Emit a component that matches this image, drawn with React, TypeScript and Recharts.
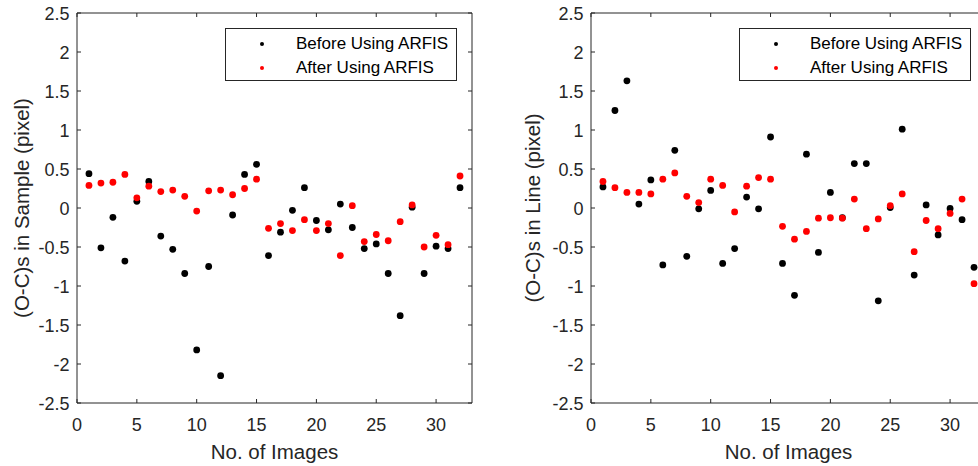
import { ScatterChart, Scatter, XAxis, YAxis, Legend } from "recharts";

// image index along x
const imageNo = [
  1, 2, 3, 4, 5, 6, 7, 8, 9, 10, 11, 12, 13, 14, 15, 16,
  17, 18, 19, 20, 21, 22, 23, 24, 25, 26, 27, 28, 29, 30, 31, 32,
];

// (O-C)s in sample direction
const sampleBefore = [
  0.44, -0.51, -0.12, -0.68, 0.085, 0.34, -0.36, -0.53, -0.84, -1.82, -0.75, -2.15, -0.09, 0.43, 0.56, -0.61,
  -0.31, -0.03, 0.26, -0.16, -0.28, 0.05, -0.25, -0.52, -0.46, -0.84, -1.38, 0.01, -0.84, -0.49, -0.52, 0.26,
];
const sampleAfter = [
  0.29, 0.32, 0.33, 0.43, 0.13, 0.28, 0.21, 0.23, 0.15, -0.04, 0.22, 0.23, 0.17, 0.25, 0.37, -0.26,
  -0.2, -0.29, -0.15, -0.29, -0.2, -0.61, 0.03, -0.43, -0.34, -0.42, -0.175, 0.04, -0.5, -0.35, -0.47, 0.41,
];

// (O-C)s in line direction
const lineBefore = [
  0.27, 1.25, 1.63, 0.05, 0.36, -0.73, 0.74, -0.62, -0.01, 0.225, -0.71, -0.52, 0.14, -0.01, 0.91, -0.71,
  -1.12, 0.69, -0.57, 0.2, -0.125, 0.57, 0.57, -1.19, 0.005, 1.01, -0.86, 0.04, -0.345, -0.005, -0.15, -0.76,
];
const lineAfter = [
  0.34, 0.26, 0.2, 0.2, 0.18, 0.37, 0.45, 0.15, 0.07, 0.37, 0.29, -0.05, 0.28, 0.39, 0.37, -0.235,
  -0.4, -0.3, -0.13, -0.125, -0.13, 0.115, -0.265, -0.14, 0.03, 0.18, -0.56, -0.16, -0.265, -0.07, 0.115, -0.97,
];

const xTicks = [0, 5, 10, 15, 20, 25, 30];
const yTicks = [-2.5, -2, -1.5, -1, -0.5, 0, 0.5, 1, 1.5, 2, 2.5];
const seriesNames = ["Before Using ARFIS", "After Using ARFIS"];
const seriesColors = ["#000000", "#ff0000"];

const FONT = '"Liberation Sans", Arial, Helvetica, sans-serif';
const INK = "#262626";
const TICK_LEN = 4;
const TICK_FONT = 18;

const toPoints = (ys: number[]) => imageNo.map((x, i) => ({ x, y: ys[i] }));

const BottomTick = (p: any) => (
  <g>
    <line x1={p.x} x2={p.x} y1={p.y} y2={p.y - TICK_LEN} stroke={INK} />
    <text x={p.x} y={p.y + 27.5} textAnchor="middle" fill={INK} fontSize={TICK_FONT} fontFamily={FONT}>
      {String(p.payload.value)}
    </text>
  </g>
);
const TopTick = (p: any) => <line x1={p.x} x2={p.x} y1={p.y} y2={p.y + TICK_LEN} stroke={INK} />;
const LeftTick = (p: any) => (
  <g>
    <line x1={p.x} x2={p.x + TICK_LEN} y1={p.y} y2={p.y} stroke={INK} />
    <text x={p.x - 7.5} y={p.y + 6.5} textAnchor="end" fill={INK} fontSize={TICK_FONT} fontFamily={FONT}>
      {String(p.payload.value)}
    </text>
  </g>
);
const RightTick = (p: any) => <line x1={p.x} x2={p.x - TICK_LEN} y1={p.y} y2={p.y} stroke={INK} />;

function LegendBox({ payload }: any) {
  const items = seriesNames.map((n, i) => {
    const found = (payload || []).find((it: any) => it.value === n);
    return { value: n, color: found ? found.color : seriesColors[i] };
  });
  return (
    <div
      style={{
        position: "relative",
        width: 232,
        height: 53,
        border: `1px solid ${INK}`,
        boxSizing: "border-box",
        background: "#fff",
        fontFamily: FONT,
        fontSize: 17,
        color: "#000",
      }}
    >
      {items.map((it, i) => (
        <div key={i} style={{ position: "absolute", left: 0, top: 3 + i * 24, width: "100%", height: 24 }}>
          <span
            style={{
              position: "absolute",
              left: 33.5,
              top: 10,
              width: 4,
              height: 4,
              borderRadius: "50%",
              background: it.color,
            }}
          />
          <span style={{ position: "absolute", left: 70, top: 0, lineHeight: "24px", whiteSpace: "nowrap" }}>
            {it.value}
          </span>
        </div>
      ))}
    </div>
  );
}

interface PanelProps {
  before: number[];
  after: number[];
  yLabel: string;
  width: number;
  yAxisWidth: number;
  rightMargin: number;
  labelX: number;
  legendLeft: number;
}

function Panel({ before, after, yLabel, width, yAxisWidth, rightMargin, labelX, legendLeft }: PanelProps) {
  const dot = (color: string) => (p: any) => <circle cx={p.cx} cy={p.cy} r={3.4} fill={color} />;
  return (
    <ScatterChart width={width} height={466} margin={{ top: 12, right: rightMargin, bottom: 62, left: 0 }}>
      <XAxis
        type="number"
        dataKey="x"
        domain={[0, 33]}
        ticks={xTicks}
        interval={0}
        allowDataOverflow
        height={1}
        tickSize={0}
        tickMargin={0}
        tickLine={false}
        axisLine={{ stroke: INK }}
        tick={BottomTick}
        label={(lp: any) => {
          const vb = lp.viewBox;
          return (
            <text x={vb.x + vb.width / 2} y={vb.y + 56} textAnchor="middle" fill={INK} fontSize={20.5} fontFamily={FONT}>
              No. of Images
            </text>
          );
        }}
      />
      <XAxis
        xAxisId="top"
        orientation="top"
        type="number"
        dataKey="x"
        domain={[0, 33]}
        ticks={xTicks}
        interval={0}
        allowDataOverflow
        height={1}
        tickSize={0}
        tickMargin={0}
        tickLine={false}
        axisLine={{ stroke: INK }}
        tick={TopTick}
      />
      <YAxis
        type="number"
        dataKey="y"
        domain={[-2.5, 2.5]}
        ticks={yTicks}
        interval={0}
        allowDataOverflow
        width={yAxisWidth}
        tickSize={0}
        tickMargin={0}
        tickLine={false}
        axisLine={{ stroke: INK }}
        tick={LeftTick}
        label={(lp: any) => {
          const vb = lp.viewBox;
          const cy = vb.y + vb.height / 2;
          return (
            <text
              x={labelX}
              y={cy}
              dy={7}
              transform={`rotate(-90 ${labelX} ${cy})`}
              textAnchor="middle"
              fill={INK}
              fontSize={20.5}
              fontFamily={FONT}
            >
              {yLabel}
            </text>
          );
        }}
      />
      <YAxis
        yAxisId="right"
        orientation="right"
        type="number"
        dataKey="y"
        domain={[-2.5, 2.5]}
        ticks={yTicks}
        interval={0}
        allowDataOverflow
        width={1}
        tickSize={0}
        tickMargin={0}
        tickLine={false}
        axisLine={{ stroke: INK }}
        tick={RightTick}
      />
      <Legend
        layout="horizontal"
        verticalAlign="middle"
        align="center"
        wrapperStyle={{ left: legendLeft, top: 28, width: 232, height: 53 }}
        content={LegendBox}
      />
      <Scatter
        name={seriesNames[0]}
        data={toPoints(before)}
        fill={seriesColors[0]}
        shape={dot(seriesColors[0])}
        isAnimationActive={false}
      />
      <Scatter
        name={seriesNames[1]}
        data={toPoints(after)}
        fill={seriesColors[1]}
        shape={dot(seriesColors[1])}
        isAnimationActive={false}
      />
    </ScatterChart>
  );
}

export default function App() {
  return (
    <div
      style={{
        position: "absolute",
        left: 0,
        top: 0,
        width: 978,
        height: 466,
        overflow: "hidden",
        background: "#ffffff",
      }}
    >
      <div style={{ position: "absolute", left: 0, top: 0 }}>
        <Panel
          before={sampleBefore}
          after={sampleAfter}
          yLabel="(O-C)s in Sample (pixel)"
          width={489}
          yAxisWidth={77}
          rightMargin={16}
          labelX={22}
          legendLeft={225}
        />
      </div>
      <div style={{ position: "absolute", left: 489, top: 0 }}>
        <Panel
          before={lineBefore}
          after={lineAfter}
          yLabel="(O-C)s in Line (pixel)"
          width={508}
          yAxisWidth={102}
          rightMargin={10}
          labelX={44}
          legendLeft={250}
        />
      </div>
    </div>
  );
}
